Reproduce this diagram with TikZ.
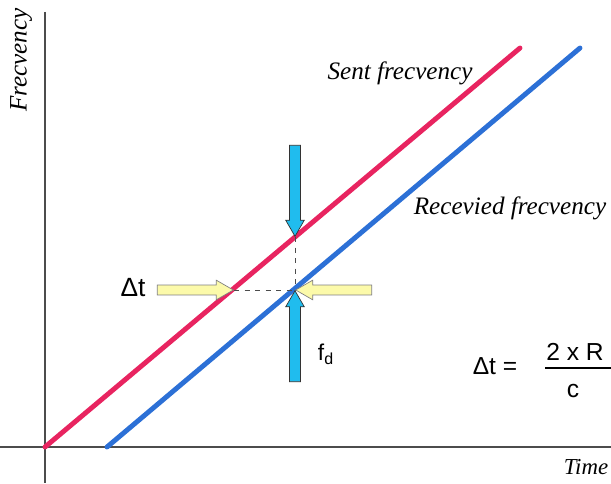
\documentclass[tikz,border=0pt]{standalone}
\usepackage{fontspec}
\setmainfont{Liberation Serif}
\newfontfamily\arialfont{Liberation Sans}
\usepackage{tikz}
\usetikzlibrary{shapes.arrows, calc}
\definecolor{sentred}{RGB}{232, 36, 96}
\definecolor{recvblue}{RGB}{44, 112, 214}
\definecolor{markcyan}{RGB}{32, 188, 238}
\definecolor{markyellow}{RGB}{252, 250, 170}

\begin{document}
\begin{tikzpicture}[x=0.02cm, y=-0.02cm,
  axis/.style={draw=black!70, line width=0.8pt},
  freqline/.style={line width=2.8pt},
  guide/.style={draw=black!70, dashed, line width=0.5pt},
  vmark/.style={single arrow, draw=black!80, fill=markcyan, line width=0.4pt, inner sep=2.9pt, minimum height=1.82cm, single arrow head extend=2.2pt, single arrow tip angle=60, anchor=tip},
  hmark/.style={single arrow, draw=black!50, fill=markyellow, line width=0.4pt, inner sep=2.6pt, minimum height=1.52cm, single arrow head extend=2.8pt, single arrow tip angle=60, anchor=tip},
  lbl/.style={font=\itshape\fontsize{14.3}{16}\selectfont, inner sep=0pt},
  sanslbl/.style={font=\arialfont\fontsize{14}{16}\selectfont, inner sep=0pt}
]
  \useasboundingbox (0,0) rectangle (611,483);

  % axes
  \draw[axis] (45,12) -- (45,483);
  \draw[axis] (0,447) -- (611,447);
  \node[lbl, rotate=90] (ylab) at (21,60) {Frecvency};
  \node[lbl, font=\itshape\fontsize{13}{15}\selectfont] (xlab) at (586,467) {Time};

  % the two frequency ramps
  \coordinate (s0) at (45,447);
  \coordinate (s1) at (520,48);
  \coordinate (r0) at (107,447);
  \coordinate (r1) at (580,48);
  \draw[freqline, sentred, line cap=round] (s0) -- (s1);
  \draw[freqline, recvblue, line cap=round] (r0) -- (r1);
  \node[lbl] (sent) at (400,73) {Sent frecvency};
  \node[lbl] (recv) at (510,208) {Recevied frecvency};

  % points where the marks meet
  \coordinate (top) at (295,237);
  \coordinate (mid) at (295,290);
  \coordinate (left) at (234,290);
  \draw[guide] (top) -- (mid);
  \draw[guide] (left) -- (mid);

  % block arrows
  \node[vmark, shape border rotate=270] (down) at (top) {};
  \node[vmark, shape border rotate=90] (up) at (mid) {};
  \node[hmark] (rightw) at (left) {};
  \node[hmark, shape border rotate=180] (leftw) at (mid) {};

  \node[sanslbl, font=\arialfont\fontsize{15}{17}\selectfont] (dt) at (133,288) {Δt};
  \node[sanslbl, font=\arialfont\fontsize{13}{15}\selectfont] (fd) at (326,354) {f\textsubscript{d}};

  % formula
  \node[sanslbl] (eq) at (495,366) {Δt =};
  \node[sanslbl] (num) at (575,352) {2 x R};
  \node[sanslbl] (den) at (573,391) {c};
  \draw[line width=0.8pt] (545,368) -- (611,368);
\end{tikzpicture}
\end{document}
